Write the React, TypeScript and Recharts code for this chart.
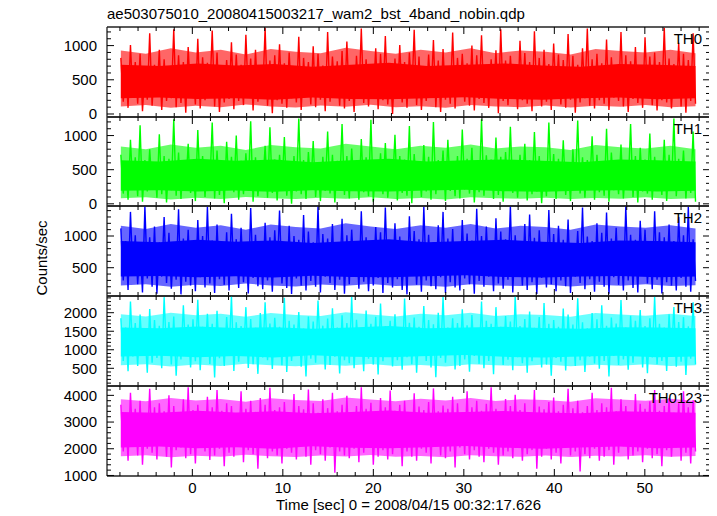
import { Area, ComposedChart, Line, XAxis, YAxis } from "recharts";

// light curve bins, read as upper / lower excursions of the noisy rate
const TH0_HI = [
  820, 690, 1010, 760, 880, 650, 1180, 720, 940, 800, 700, 1240, 860, 760, 980, 690, 1100, 830, 750, 1220,
  900, 680, 790, 1050, 870, 720, 1160, 810, 940, 700, 1260, 780, 860, 1020, 740, 900, 680, 1130, 820, 760,
  990, 880, 710, 1200, 840, 770, 920, 1060, 690, 850, 1250, 800, 730, 960, 880, 1140, 720, 810, 1010, 760,
  900, 1230, 840, 700, 870, 1080, 780, 950, 690, 1190, 820, 880, 740, 1000, 860, 1150, 720, 800, 930, 1240,
  780, 850, 700, 1070, 890, 760, 1210, 820, 940, 730, 1030, 870, 790, 1170, 850, 720, 960, 1250, 800, 880,
  740, 1090, 830, 690, 1200, 860, 770, 980, 710, 1120, 840, 900, 760, 1260, 810, 730, 1040, 880, 790, 1180,
];
const TH0_LO = [
  180, 90, 240, 150, 40, 210, 120, 270, 60, 190, 230, 100, 160, 20, 250, 140, 80, 200, 260, 110,
  30, 170, 220, 70, 190, 130, 240, 50, 180, 280, 120, 10, 200, 150, 90, 230, 170, 60, 250, 140,
  100, 210, 40, 180, 260, 120, 80, 190, 30, 230, 160, 110, 270, 70, 200, 140, 0, 220, 170, 90,
  250, 130, 60, 190, 240, 100, 30, 210, 150, 80, 260, 180, 120, 50, 220, 160, 90, 240, 10, 190,
  130, 270, 70, 200, 150, 40, 230, 110, 180, 60, 250, 140, 90, 210, 20, 170, 230, 120, 80, 200,
  150, 60, 240, 190, 110, 30, 220, 160, 90, 260, 130, 50, 200, 170, 80, 240, 110, 20, 190, 150,
];
// dense part of the band (read every ~4 s) and the half-filled fringe around it (every ~2.8 s)
const TH0_CORE_HI = [720, 700, 740, 710, 730, 690, 720, 750, 700, 720, 740, 710, 690, 730, 720, 700];
const TH0_CORE_LO = [230, 240, 220, 230, 210, 240, 220, 215, 230, 245, 220, 210, 230, 240, 215, 230];
const TH0_OUTER_HI = [930, 880, 960, 900, 940, 870, 950, 910, 890, 970, 920, 880, 940, 900, 960, 890, 930, 910, 870, 950, 920, 900, 940, 890];
const TH0_OUTER_LO = [110, 130, 90, 120, 100, 140, 110, 95, 125, 105, 135, 100, 115, 90, 130, 110, 100, 125, 95, 120, 105, 130, 100, 115];

const TH1_HI = [
  720, 610, 940, 680, 1150, 640, 800, 590, 1020, 700, 660, 1240, 750, 620, 880, 560, 1080, 700, 640, 1190,
  780, 600, 910, 690, 1000, 630, 740, 1210, 680, 590, 850, 1120, 650, 720, 980, 600, 700, 1250, 640, 760,
  920, 580, 690, 1060, 720, 630, 1170, 700, 810, 600, 950, 680, 1230, 620, 740, 890, 570, 1010, 700, 650,
  1140, 730, 600, 860, 690, 1200, 640, 780, 940, 610, 700, 1090, 660, 820, 580, 1240, 710, 650, 970, 690,
  760, 1130, 600, 720, 880, 640, 1050, 700, 590, 1190, 730, 660, 930, 610, 800, 1220, 680, 640, 990, 720,
  610, 1100, 750, 640, 870, 590, 1170, 700, 820, 650, 1030, 690, 600, 940, 720, 1250, 660, 780, 610, 1060,
];
const TH1_LO = [
  150, 60, 210, 110, 30, 180, 240, 90, 140, 20, 200, 120, 70, 230, 160, 40, 190, 100, 250, 80,
  130, 10, 220, 170, 60, 140, 200, 30, 110, 240, 90, 160, 50, 210, 120, 0, 180, 140, 70, 230,
  100, 40, 190, 150, 20, 210, 130, 80, 240, 60, 170, 110, 30, 200, 140, 90, 250, 50, 160, 120,
  10, 220, 100, 180, 60, 140, 230, 40, 190, 110, 80, 210, 150, 20, 170, 120, 240, 70, 130, 30,
  200, 160, 90, 220, 50, 140, 180, 10, 110, 230, 70, 190, 130, 40, 210, 150, 90, 250, 60, 170,
  120, 30, 200, 140, 80, 230, 100, 20, 180, 150, 60, 210, 130, 40, 190, 110, 240, 80, 160, 30,
];
const TH1_CORE_HI = [640, 620, 660, 630, 650, 610, 640, 660, 620, 640, 650, 630, 610, 650, 640, 620];
const TH1_CORE_LO = [190, 200, 180, 195, 175, 200, 185, 180, 195, 205, 185, 175, 190, 200, 180, 190];
const TH1_OUTER_HI = [840, 800, 870, 820, 850, 790, 860, 830, 810, 880, 840, 800, 850, 820, 870, 810, 840, 830, 790, 860, 830, 810, 850, 800];
const TH1_OUTER_LO = [80, 95, 65, 90, 70, 100, 80, 70, 90, 75, 95, 70, 85, 65, 95, 80, 75, 90, 70, 85, 75, 95, 70, 80];

const TH2_HI = [
  1120, 920, 1380, 1010, 860, 1470, 980, 1150, 900, 1300, 1050, 880, 1420, 960, 1100, 870, 1250, 1000, 1460, 930,
  1180, 890, 1060, 1350, 950, 1130, 870, 1440, 1020, 910, 1210, 980, 1090, 1400, 880, 1160, 1000, 940, 1330, 1070,
  900, 1470, 1030, 960, 1190, 880, 1270, 1010, 1100, 920, 1390, 980, 870, 1140, 1060, 1450, 930, 1200, 990, 880,
  1310, 1080, 950, 1460, 1020, 900, 1170, 1380, 960, 1110, 870, 1250, 1040, 930, 1430, 1000, 1150, 890, 1280, 1070,
  950, 1470, 1010, 880, 1190, 1340, 970, 1090, 900, 1410, 1030, 1160, 940, 1260, 880, 1080, 1450, 990, 920, 1200,
  1050, 1370, 960, 1130, 890, 1470, 1020, 940, 1240, 1100, 900, 1390, 1060, 980, 1180, 920, 1300, 1010, 1460, 950,
];
const TH2_LO = [
  300, 150, 380, 240, 110, 330, 200, 90, 360, 260, 170, 310, 80, 280, 220, 130, 350, 190, 250, 100,
  320, 230, 140, 390, 180, 270, 95, 340, 210, 160, 300, 120, 370, 250, 180, 85, 330, 220, 140, 290,
  200, 110, 360, 260, 150, 310, 90, 240, 380, 170, 280, 130, 220, 340, 100, 260, 190, 320, 150, 80,
  370, 230, 120, 300, 210, 160, 350, 100, 270, 190, 140, 330, 240, 90, 290, 200, 360, 130, 250, 170,
  310, 110, 380, 220, 150, 270, 85, 340, 190, 240, 130, 300, 210, 100, 360, 260, 160, 320, 120, 280,
  200, 90, 350, 230, 140, 300, 180, 110, 370, 250, 160, 310, 95, 270, 220, 140, 340, 200, 120, 290,
];
const TH2_CORE_HI = [920, 900, 940, 910, 930, 890, 920, 950, 900, 920, 940, 910, 890, 930, 920, 900];
const TH2_CORE_LO = [360, 370, 350, 365, 345, 375, 355, 350, 365, 380, 355, 345, 360, 370, 350, 360];
const TH2_OUTER_HI = [1160, 1110, 1190, 1130, 1170, 1100, 1180, 1140, 1120, 1200, 1150, 1110, 1170, 1130, 1190, 1120, 1160, 1140, 1100, 1180, 1150, 1130, 1170, 1120];
const TH2_OUTER_LO = [220, 240, 200, 230, 210, 250, 220, 205, 235, 215, 245, 210, 225, 200, 240, 220, 210, 235, 205, 230, 215, 240, 210, 225];

const TH3_HI = [
  1850, 1600, 2300, 1720, 1950, 1550, 2100, 1800, 1650, 2420, 1750, 1900, 1580, 2200, 1680, 1820, 2350, 1620, 1970, 1700,
  2050, 1560, 1880, 2450, 1740, 1640, 2150, 1830, 1590, 1990, 2280, 1710, 1860, 1620, 2400, 1780, 1680, 2020, 1570, 1900,
  1760, 2330, 1650, 1840, 2120, 1600, 1930, 1720, 2440, 1810, 1580, 2060, 1700, 1890, 2250, 1640, 1780, 1960, 1550, 2380,
  1730, 1870, 1620, 2180, 1800, 1690, 2000, 2420, 1600, 1850, 1720, 2090, 1660, 1940, 1570, 2300, 1780, 1700, 2150, 1620,
  1910, 1760, 2450, 1640, 1830, 2030, 1590, 1880, 2260, 1700, 1800, 1620, 2110, 1950, 1680, 2390, 1740, 1580, 1990, 1820,
  2200, 1650, 1870, 1710, 2340, 1600, 1920, 1780, 2070, 1640, 1850, 2430, 1700, 1600, 1960, 2150, 1750, 1880, 1630, 2280,
];
const TH3_LO = [
  700, 420, 820, 560, 900, 380, 650, 780, 500, 860, 600, 300, 740, 880, 520, 690, 450, 810, 620, 250,
  770, 560, 900, 430, 680, 840, 510, 610, 350, 790, 720, 480, 860, 580, 400, 700, 830, 540, 280, 760,
  650, 880, 470, 590, 810, 360, 720, 640, 500, 850, 420, 760, 600, 330, 690, 870, 550, 720, 460, 800,
  610, 380, 840, 700, 520, 260, 780, 650, 890, 470, 560, 740, 410, 830, 620, 500, 700, 340, 860, 590,
  730, 450, 800, 640, 380, 690, 860, 520, 600, 300, 780, 680, 440, 850, 560, 720, 400, 810, 630, 490,
  700, 280, 830, 590, 740, 460, 650, 880, 520, 370, 790, 610, 700, 430, 860, 540, 680, 320, 760, 600,
];
const TH3_CORE_HI = [1600, 1580, 1630, 1590, 1610, 1570, 1600, 1640, 1580, 1600, 1620, 1590, 1570, 1610, 1600, 1580];
const TH3_CORE_LO = [820, 840, 800, 830, 790, 850, 810, 800, 830, 860, 810, 790, 820, 840, 800, 820];
const TH3_OUTER_HI = [1960, 1900, 2000, 1930, 1970, 1890, 1990, 1940, 1910, 2010, 1950, 1900, 1970, 1930, 2000, 1910, 1960, 1940, 1890, 1990, 1950, 1920, 1970, 1910];
const TH3_OUTER_LO = [580, 610, 550, 600, 560, 620, 580, 555, 605, 570, 615, 560, 590, 550, 610, 580, 565, 600, 555, 595, 570, 610, 560, 585];

const TH0123_HI = [
  3650, 3350, 4100, 3500, 3800, 3300, 4250, 3550, 3700, 3400, 4000, 3600, 3320, 3850, 4300, 3450, 3650, 3380, 3950, 3550,
  4200, 3420, 3700, 3600, 3300, 4150, 3500, 3800, 3380, 3900, 3650, 4280, 3450, 3550, 3750, 3350, 4050, 3600, 3480, 4220,
  3700, 3350, 3850, 3520, 4100, 3400, 3650, 3980, 3330, 3600, 4300, 3500, 3720, 3380, 3900, 3550, 4180, 3420, 3650, 3800,
  3350, 4080, 3580, 3450, 3750, 4260, 3400, 3620, 3500, 3950, 3700, 3350, 4150, 3550, 3800, 3420, 3680, 4300, 3500, 3380,
  3860, 3600, 4020, 3450, 3700, 3330, 4200, 3580, 3480, 3750, 3920, 3400, 3650, 4250, 3520, 3800, 3370, 3600, 4100, 3450,
  3700, 3550, 4280, 3400, 3850, 3600, 3350, 4050, 3680, 3500, 3780, 4200, 3420, 3600, 3900, 3350, 3700, 4150, 3550, 3820,
];
const TH0123_LO = [
  1900, 1550, 2100, 1750, 1400, 2000, 1850, 1600, 2150, 1700, 1300, 1950, 2050, 1650, 1800, 1450, 2100, 1900, 1580, 1750,
  2000, 1350, 1850, 1700, 2100, 1500, 1950, 1800, 1250, 2050, 1650, 1900, 1750, 1450, 2000, 1850, 1600, 2150, 1700, 1400,
  1950, 1800, 1550, 2050, 1100, 1900, 1750, 1650, 2000, 1500, 1850, 2100, 1400, 1700, 1950, 1600, 1800, 2050, 1350, 1900,
  1700, 1550, 2000, 1850, 1450, 2100, 1750, 1650, 1900, 1300, 2050, 1800, 1600, 1950, 1700, 1500, 2000, 1850, 1400, 1750,
  1900, 1650, 2100, 1550, 1800, 1950, 1250, 1700, 2000, 1600, 1850, 1450, 2050, 1750, 1900, 1150, 1800, 1650, 2000, 1550,
  1700, 1950, 1400, 1850, 2100, 1600, 1750, 1900, 1500, 2000, 1650, 1800, 1350, 1950, 1700, 2050, 1550, 1850, 1450, 1900,
];
const TH0123_CORE_HI = [3380, 3350, 3420, 3360, 3400, 3330, 3380, 3430, 3350, 3380, 3410, 3360, 3330, 3400, 3380, 3350];
const TH0123_CORE_LO = [2050, 2080, 2020, 2060, 2000, 2090, 2040, 2020, 2060, 2100, 2040, 2000, 2050, 2080, 2020, 2050];
const TH0123_OUTER_HI = [3850, 3780, 3900, 3810, 3860, 3760, 3890, 3830, 3790, 3920, 3840, 3780, 3870, 3810, 3900, 3790, 3850, 3830, 3760, 3890, 3840, 3800, 3870, 3790];
const TH0123_OUTER_LO = [1720, 1760, 1680, 1740, 1700, 1780, 1720, 1690, 1750, 1710, 1770, 1700, 1730, 1680, 1760, 1720, 1700, 1750, 1690, 1740, 1710, 1760, 1700, 1730];

// time range covered by the bins (sec)
const T_START = -7.9;
const T_END = 55.6;

const X_DOMAIN: [number, number] = [-9.43, 57.2];
const X_TICKS = [-8, -6, -4, -2, 0, 2, 4, 6, 8, 10, 12, 14, 16, 18, 20, 22, 24, 26, 28, 30, 32, 34, 36, 38, 40, 42, 44, 46, 48, 50, 52, 54, 56];
const X_LABELS = [0, 10, 20, 30, 40, 50];

const Y_TICKS_LOW = [0, 100, 200, 300, 400, 500, 600, 700, 800, 900, 1000, 1100, 1200];
const Y_TICKS_TH2 = [100, 200, 300, 400, 500, 600, 700, 800, 900, 1000, 1100, 1200, 1300, 1400];
const Y_TICKS_TH3 = [
  100, 200, 300, 400, 500, 600, 700, 800, 900, 1000, 1100, 1200, 1300, 1400, 1500, 1600, 1700, 1800, 1900, 2000,
  2100, 2200, 2300, 2400,
];
const Y_TICKS_SUM = [1000, 1200, 1400, 1600, 1800, 2000, 2200, 2400, 2600, 2800, 3000, 3200, 3400, 3600, 3800, 4000, 4200];

const FONT = "'Liberation Sans', Arial, Helvetica, sans-serif";
const PANEL_TOPS = [27, 117, 206, 296, 386];
const PLOT_BOTTOM = 476;
const PAD = 10;

type PanelDef = {
  name: string;
  color: string;
  hi: number[];
  lo: number[];
  coreHi: number[];
  coreLo: number[];
  outerHi: number[];
  outerLo: number[];
  domain: [number, number];
  ticks: number[];
  major: number;
  labels: number[];
};

const panels: PanelDef[] = [
  {
    name: "TH0", color: "#ff0000", hi: TH0_HI, lo: TH0_LO, coreHi: TH0_CORE_HI, coreLo: TH0_CORE_LO,
    outerHi: TH0_OUTER_HI, outerLo: TH0_OUTER_LO, domain: [-44, 1272], ticks: Y_TICKS_LOW, major: 500, labels: [0, 500, 1000],
  },
  {
    name: "TH1", color: "#00ff00", hi: TH1_HI, lo: TH1_LO, coreHi: TH1_CORE_HI, coreLo: TH1_CORE_LO,
    outerHi: TH1_OUTER_HI, outerLo: TH1_OUTER_LO, domain: [-32, 1272], ticks: Y_TICKS_LOW, major: 500, labels: [0, 500, 1000],
  },
  {
    name: "TH2", color: "#0000ff", hi: TH2_HI, lo: TH2_LO, coreHi: TH2_CORE_HI, coreLo: TH2_CORE_LO,
    outerHi: TH2_OUTER_HI, outerLo: TH2_OUTER_LO, domain: [54, 1473], ticks: Y_TICKS_TH2, major: 500, labels: [500, 1000],
  },
  {
    name: "TH3", color: "#00ffff", hi: TH3_HI, lo: TH3_LO, coreHi: TH3_CORE_HI, coreLo: TH3_CORE_LO,
    outerHi: TH3_OUTER_HI, outerLo: TH3_OUTER_LO, domain: [22, 2451], ticks: Y_TICKS_TH3, major: 500, labels: [500, 1000, 1500, 2000],
  },
  {
    name: "TH0123", color: "#ff00ff", hi: TH0123_HI, lo: TH0123_LO, coreHi: TH0123_CORE_HI, coreLo: TH0123_CORE_LO,
    outerHi: TH0123_OUTER_HI, outerLo: TH0123_OUTER_LO, domain: [980, 4350], ticks: Y_TICKS_SUM, major: 1000, labels: [1000, 2000, 3000, 4000],
  },
];

// interleave the upper and lower excursions along the time axis
const buildSeries = (hi: number[], lo: number[]) => {
  const n = Math.min(hi.length, lo.length);
  const step = (T_END - T_START) / (2 * n - 1);
  const out: { t: number; v: number }[] = [];
  for (let i = 0; i < n; i++) {
    out.push({ t: T_START + 2 * i * step, v: hi[i] });
    out.push({ t: T_START + (2 * i + 1) * step, v: lo[i] });
  }
  return out;
};

const buildBand = (hi: number[], lo: number[]) => {
  const n = Math.min(hi.length, lo.length);
  const step = (T_END - T_START) / (n - 1);
  return hi.slice(0, n).map((h, i) => ({ t: T_START + i * step, band: [lo[i], h] }));
};

const XTick = (props: any) => {
  const { x, y, payload, dir, showLabel } = props;
  const v = payload.value;
  const major = v % 10 === 0;
  const len = major ? 7 : 4;
  return (
    <g>
      <line x1={x} y1={y} x2={x} y2={y + dir * len} stroke="#000" strokeWidth={1} />
      {showLabel && X_LABELS.includes(v) ? (
        <text x={x} y={y + 12} dy="0.35em" textAnchor="middle" fontSize={15} fontFamily={FONT} fill="#000">
          {v}
        </text>
      ) : null}
    </g>
  );
};

const YTick = (props: any) => {
  const { x, y, payload, side, major, labels } = props;
  const v = payload.value;
  const len = v % major === 0 ? 7 : 4;
  const dir = side === "left" ? 1 : -1;
  return (
    <g>
      <line x1={x} y1={y} x2={x + dir * len} y2={y} stroke="#000" strokeWidth={1} />
      {side === "left" && labels.includes(v) ? (
        <text x={x - 10} y={y} dy="0.36em" textAnchor="end" fontSize={15} fontFamily={FONT} fill="#000">
          {v}
        </text>
      ) : null}
    </g>
  );
};

const Panel = ({ p, top, height, last }: { p: PanelDef; top: number; height: number; last: boolean }) => {
  const extra = last ? 40 : PAD;
  const series = buildSeries(p.hi, p.lo);
  const core = buildBand(p.coreHi, p.coreLo);
  const outer = buildBand(p.outerHi, p.outerLo);
  const axisLine = { stroke: "#222", strokeWidth: 1.3 };
  // one-pixel axes sit just outside the plot box; PAD leaves room for labels at the edges
  return (
    <div style={{ position: "absolute", left: 0, top: top - 1 - PAD }}>
      <ComposedChart width={717} height={height + 2 + PAD + extra} margin={{ top: PAD, right: 6, bottom: extra, left: 106 }}>
        <XAxis
          xAxisId="b"
          dataKey="t"
          type="number"
          domain={X_DOMAIN}
          ticks={X_TICKS}
          interval={0}
          allowDataOverflow
          height={1}
          tickSize={0}
          tickMargin={0}
          tickLine={false}
          axisLine={axisLine}
          tick={(tp: any) => <XTick {...tp} dir={-1} showLabel={last} />}
        />
        <XAxis
          xAxisId="t"
          orientation="top"
          dataKey="t"
          type="number"
          domain={X_DOMAIN}
          ticks={X_TICKS}
          interval={0}
          allowDataOverflow
          height={1}
          tickSize={0}
          tickMargin={0}
          tickLine={false}
          axisLine={axisLine}
          tick={(tp: any) => <XTick {...tp} dir={1} showLabel={false} />}
        />
        <YAxis
          yAxisId="l"
          type="number"
          domain={p.domain}
          ticks={p.ticks}
          interval={0}
          allowDataOverflow
          width={1}
          tickSize={0}
          tickMargin={0}
          tickLine={false}
          axisLine={axisLine}
          tick={(tp: any) => <YTick {...tp} side="left" major={p.major} labels={p.labels} />}
        />
        <YAxis
          yAxisId="r"
          orientation="right"
          type="number"
          domain={p.domain}
          ticks={p.ticks}
          interval={0}
          allowDataOverflow
          width={1}
          tickSize={0}
          tickMargin={0}
          tickLine={false}
          axisLine={axisLine}
          tick={(tp: any) => <YTick {...tp} side="right" major={p.major} labels={p.labels} />}
        />
        <Area
          xAxisId="b"
          yAxisId="l"
          data={outer}
          dataKey="band"
          type="linear"
          stroke="none"
          fill={p.color}
          fillOpacity={0.6}
          dot={false}
          activeDot={false}
          isAnimationActive={false}
        />
        <Area
          xAxisId="b"
          yAxisId="l"
          data={core}
          dataKey="band"
          type="linear"
          stroke="none"
          fill={p.color}
          fillOpacity={1}
          dot={false}
          activeDot={false}
          isAnimationActive={false}
        />
        <Line
          xAxisId="b"
          yAxisId="l"
          data={series}
          dataKey="v"
          type="linear"
          stroke={p.color}
          strokeWidth={1.4}
          strokeLinejoin="miter"
          dot={false}
          activeDot={false}
          isAnimationActive={false}
        />
      </ComposedChart>
      <div
        style={{
          position: "absolute",
          right: 15,
          top: 5 + PAD,
          fontFamily: FONT,
          fontSize: 15,
          lineHeight: "16px",
          color: "#000",
        }}
      >
        {p.name}
      </div>
    </div>
  );
};

export default function App() {
  return (
    <div
      style={{
        position: "relative",
        width: 717,
        height: 516,
        background: "#fff",
        marginTop: -8,
        marginLeft: -8,
        fontFamily: FONT,
      }}
    >
      <div style={{ position: "absolute", left: 107, top: 6, fontSize: 15, lineHeight: "16px", color: "#000" }}>
        ae503075010_20080415003217_wam2_bst_4band_nobin.qdp
      </div>
      {panels.map((p, i) => {
        const top = PANEL_TOPS[i];
        const bottom = i + 1 < PANEL_TOPS.length ? PANEL_TOPS[i + 1] : PLOT_BOTTOM;
        return <Panel key={p.name} p={p} top={top} height={bottom - top} last={i === panels.length - 1} />;
      })}
      <div
        style={{
          position: "absolute",
          left: 107,
          width: 603,
          top: 497,
          textAlign: "center",
          fontSize: 15,
          lineHeight: "16px",
          color: "#000",
        }}
      >
        Time [sec] 0 = 2008/04/15 00:32:17.626
      </div>
      <div
        style={{
          position: "absolute",
          left: 42,
          top: 258,
          transform: "translate(-50%, -50%) rotate(-90deg)",
          fontSize: 15,
          lineHeight: "16px",
          whiteSpace: "nowrap",
          color: "#000",
        }}
      >
        Counts/sec
      </div>
    </div>
  );
}
